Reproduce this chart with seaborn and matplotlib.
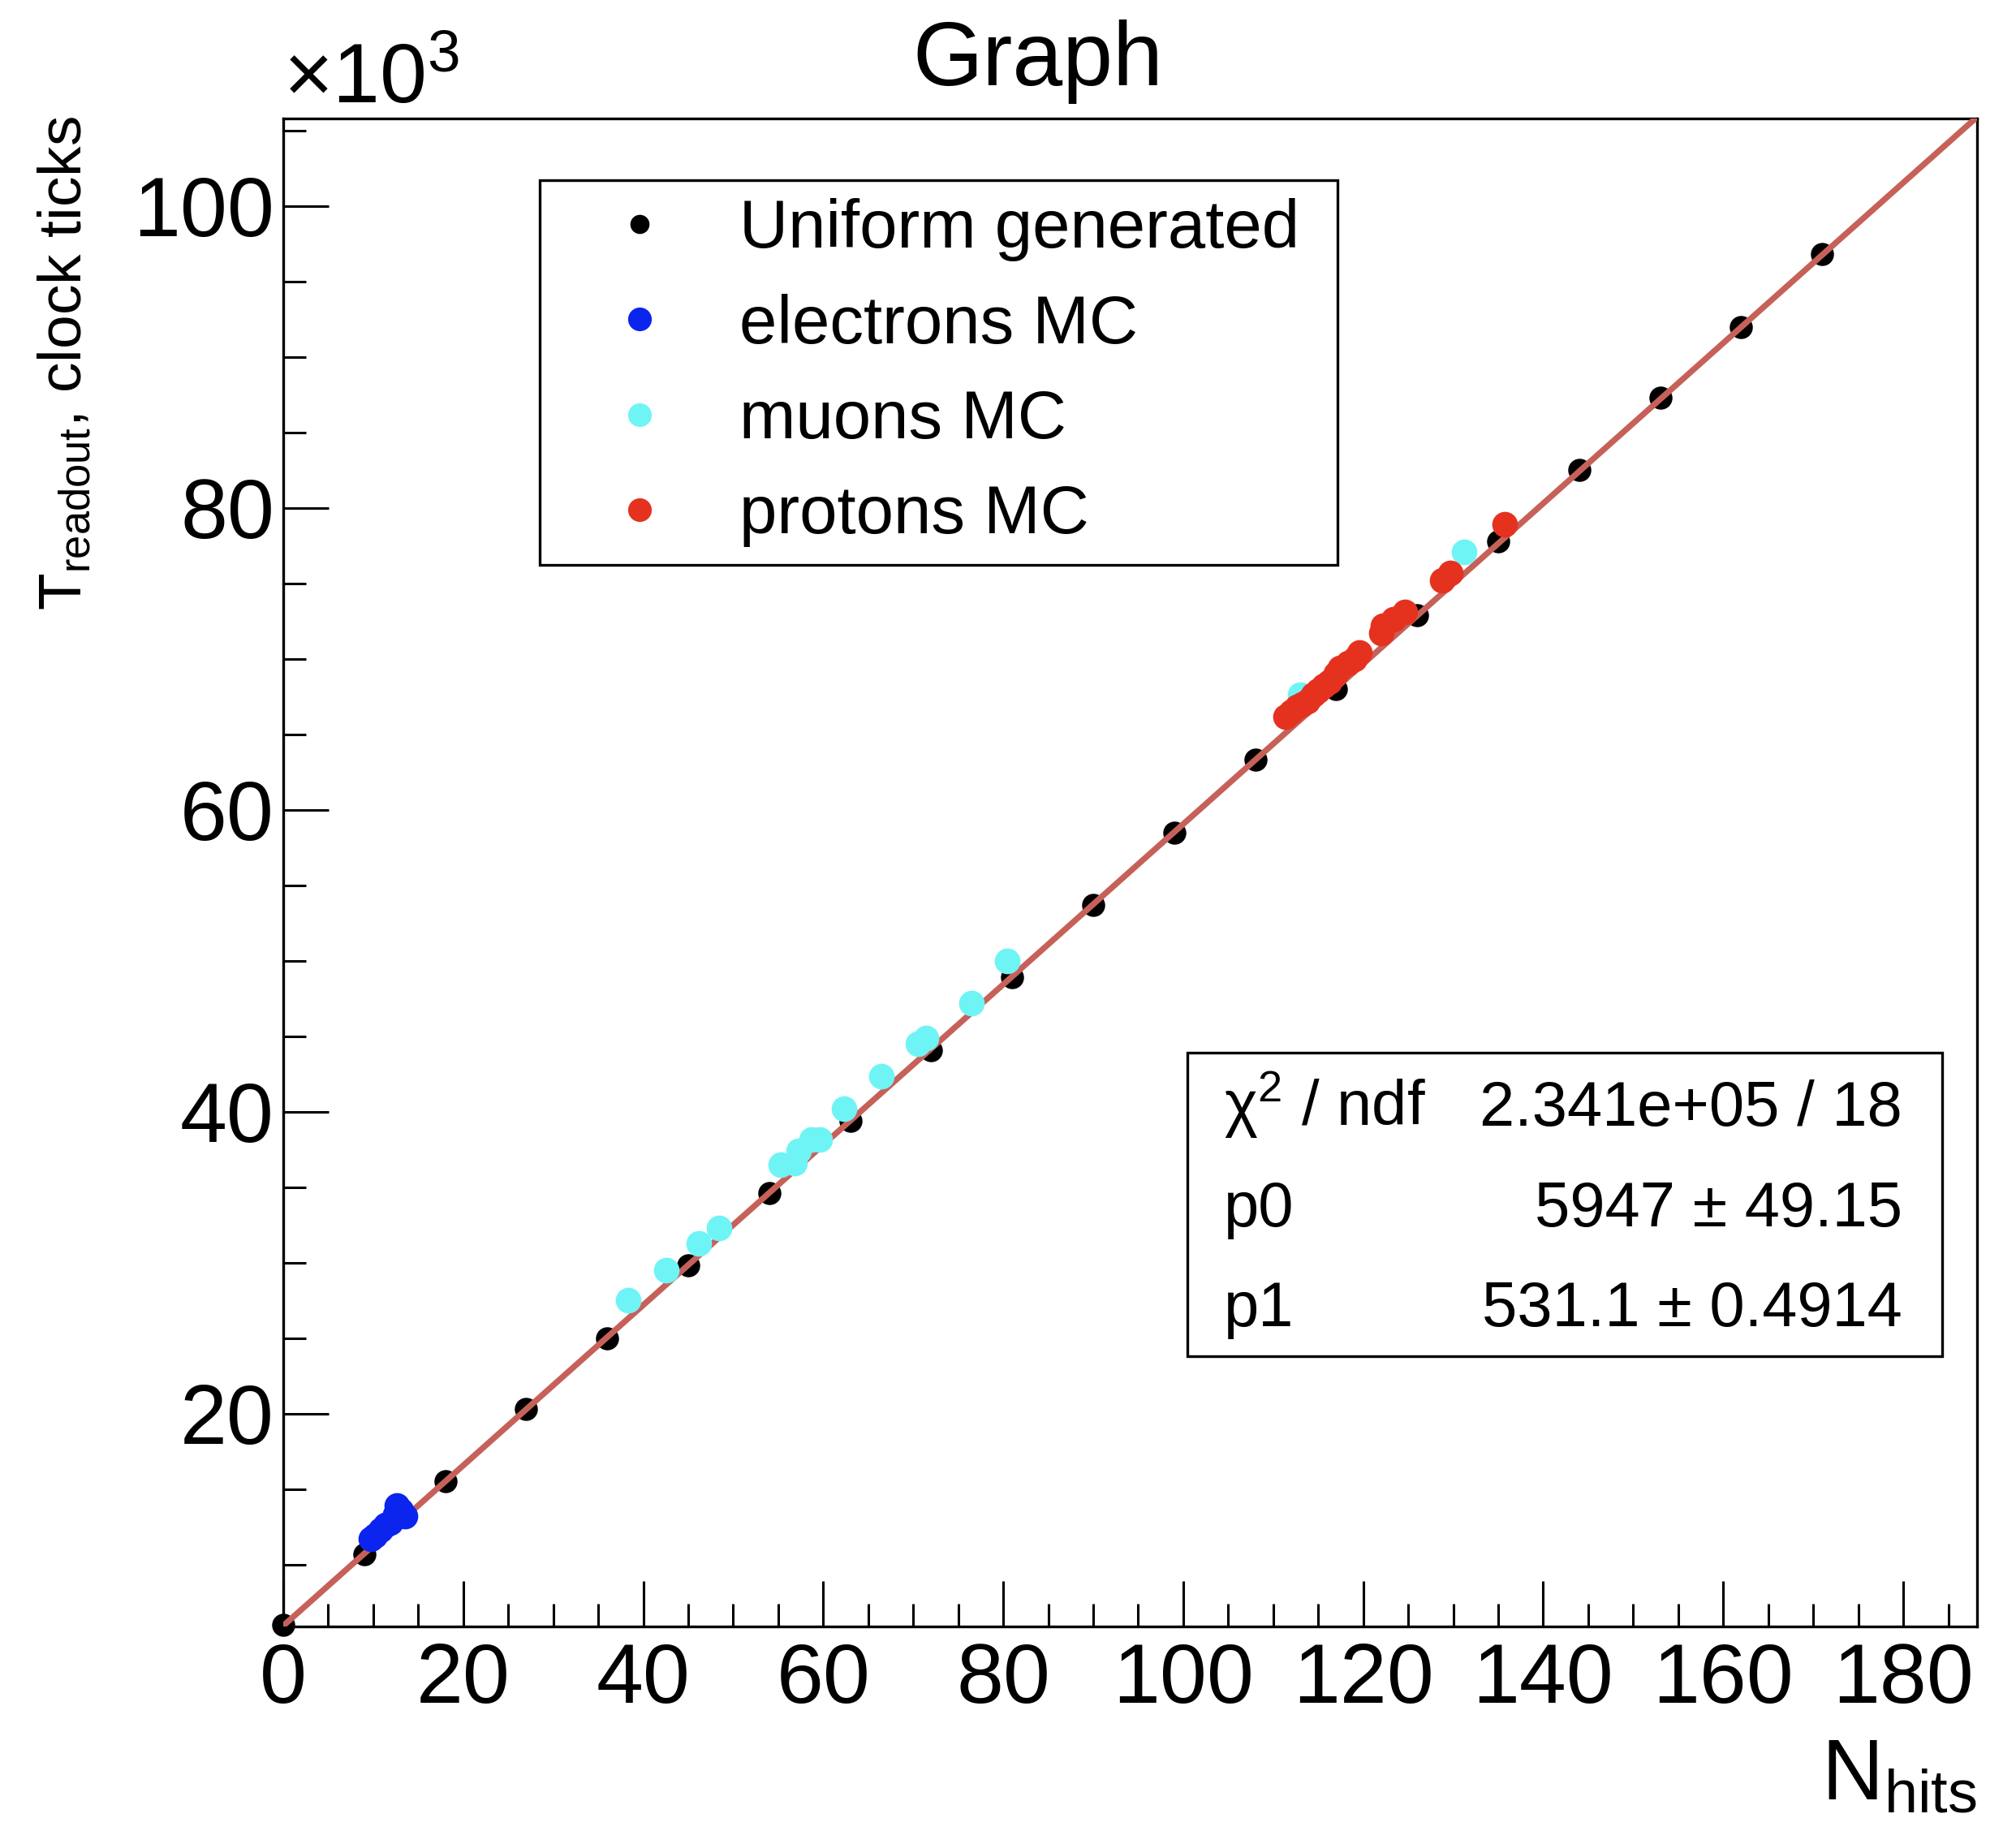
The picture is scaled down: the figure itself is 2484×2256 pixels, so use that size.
import numpy as np
import pandas as pd
import matplotlib
matplotlib.use("Agg")
import matplotlib.pyplot as plt
import seaborn as sns
from matplotlib.lines import Line2D
from matplotlib.patches import Rectangle
from matplotlib.ticker import MultipleLocator

# ---------------- data (y in units of 10^3 clock ticks) ----------------
uniform_x = [0, 9, 18, 27, 36, 45, 54, 63, 72, 81, 90, 99, 108, 117, 126, 135, 144, 153, 162, 171]
uniform_y = [6.0, 10.7, 15.5, 20.3, 25.0, 29.8, 34.6, 39.4, 44.1, 48.9, 53.7, 58.5, 63.3, 68.0,
             72.9, 77.8, 82.5, 87.3, 92.0, 96.8]

electron_x = [9.7, 10.2, 10.8, 11.4, 11.9, 12.4, 12.6, 13.1, 13.5]
electron_y = [11.7, 11.9, 12.3, 12.6, 12.8, 13.3, 13.9, 13.6, 13.2]

muon_x = [38.3, 42.6, 46.2, 48.4, 55.3, 56.8, 57.3, 58.7, 59.6, 62.3, 66.5, 70.5, 71.4, 76.5, 80.4, 113.0, 131.2]
muon_y = [27.5, 29.5, 31.3, 32.3, 36.5, 36.6, 37.4, 38.15, 38.15, 40.2, 42.35, 44.5, 44.9, 47.2, 50.0, 67.6, 77.1]

proton_x = [111.4, 112.0, 112.6, 113.2, 113.8, 114.4, 115.0, 115.6, 116.2, 117.0, 117.4, 118.3, 119.0,
            119.6, 122.0, 122.2, 123.4, 124.6, 128.8, 129.7, 135.7]
proton_y = [66.2, 66.5, 66.8, 67.0, 67.2, 67.6, 67.9, 68.2, 68.5, 69.0, 69.4, 69.7, 70.0,
            70.4, 71.7, 72.2, 72.6, 73.1, 75.2, 75.7, 78.9]

series_names = ["Uniform generated", "electrons MC", "muons MC", "protons MC"]
series_colors = ["#000000", "#0b24ee", "#6ff4f6", "#e5321f"]

fit_p0 = 5947.0
fit_p1 = 531.1
stats_labels = [r"$\mathregular{\chi^{2}}$ / ndf", "p0", "p1"]
stats_values = ["2.341e+05 / 18", "5947 \u00b1 49.15", "531.1 \u00b1 0.4914"]

x_ticks = [0, 20, 40, 60, 80, 100, 120, 140, 160, 180]
y_ticks = [20, 40, 60, 80, 100]
x_range = (0, 188.2)
y_range = (5.9, 105.8)

# ---------------- style ----------------
sns.set_theme(style="white")
plt.rcParams["font.family"] = ["Liberation Sans", "DejaVu Sans"]
plt.rcParams["mathtext.fontset"] = "custom"
plt.rcParams["mathtext.rm"] = "Liberation Sans"
plt.rcParams["mathtext.it"] = "Liberation Sans:italic"
plt.rcParams["mathtext.bf"] = "Liberation Sans:bold"
for key in ["text.color", "axes.labelcolor", "xtick.color", "ytick.color", "axes.edgecolor"]:
    plt.rcParams[key] = "black"

W, H = 2484, 2256
fig = plt.figure(figsize=(W / 100, H / 100), dpi=100)
fig.patch.set_facecolor("white")
ax = fig.add_axes([349 / W, 1 - 2004 / H, (2436 - 349) / W, (2004 - 146) / H])
ax.set_facecolor("white")

frames = []
for name, xs, ys in zip(series_names,
                        [uniform_x, electron_x, muon_x, proton_x],
                        [uniform_y, electron_y, muon_y, proton_y]):
    frames.append(pd.DataFrame({"x": xs, "y": ys, "series": name}))
df = pd.concat(frames, ignore_index=True)

# black points, under the fit line
sns.scatterplot(data=df[df.series == series_names[0]], x="x", y="y", color=series_colors[0],
                s=420, linewidth=0, ax=ax, legend=False, zorder=2, clip_on=False)

# fit line
line_x = np.array([x_range[0], x_range[1]])
line_y = (fit_p0 + fit_p1 * line_x) / 1000.0
sns.lineplot(x=line_x, y=line_y, color="#c6615a", linewidth=5.3, ax=ax, estimator=None,
             zorder=3, legend=False)

for name, col in zip(series_names[1:], series_colors[1:]):
    sns.scatterplot(data=df[df.series == name], x="x", y="y", color=col,
                    s=520, linewidth=0, ax=ax, legend=False, zorder=4)

ax.set_xlim(*x_range)
ax.set_ylim(*y_range)
ax.set_xticks(x_ticks)
ax.set_yticks(y_ticks)
ax.xaxis.set_minor_locator(MultipleLocator(5))
ax.yaxis.set_minor_locator(MultipleLocator(5))
ax.tick_params(which="major", direction="in", length=40, width=2.2, colors="black",
               labelsize=75, top=False, right=False, bottom=True, left=True)
ax.tick_params(which="minor", direction="in", length=20, width=2.2, top=False, right=False,
               bottom=True, left=True)
ax.tick_params(axis="x", which="major", pad=14)
ax.tick_params(axis="y", which="major", pad=8)
for sp in ax.spines.values():
    sp.set_color("black")
    sp.set_linewidth(2.4)
    sp.set_visible(True)
ax.set_xlabel("")
ax.set_ylabel("")

# axis titles
fig.text(2436 / W, 1 - 2218 / H, r"$\mathregular{N_{hits}}$", fontsize=76, ha="right",
         va="baseline")
fig.text(45 / W, 1 - 143 / H, r"$\mathregular{T_{readout}}$, clock ticks", fontsize=54,
         rotation=90, ha="left", va="top")
fig.text(349 / W, 1 - 127 / H, "\u00d710$^{\mathregular{3}}$", fontsize=75, ha="left",
         va="baseline")
fig.text(1279 / W, 1 - 105 / H, "Graph", fontsize=80, ha="center", va="baseline")

# legend
handles = [Line2D([], [], linestyle="none", marker="o", markersize=ms, markerfacecolor=c,
                  markeredgewidth=0, color=c)
           for c, ms in zip(series_colors, [17, 21, 21, 21])]
leg = ax.legend(handles, series_names, loc="upper left",
                bbox_to_anchor=(665 / W, 1 - 689 / H, 983 / W, 467 / H),
                bbox_transform=fig.transFigure, mode="expand", fontsize=60,
                frameon=True, fancybox=False, shadow=False, framealpha=1,
                borderpad=0.27, labelspacing=0.47, handlelength=2.41, handletextpad=0.27,
                borderaxespad=0)
leg.get_frame().set_edgecolor("black")
leg.get_frame().set_linewidth(2.4)
leg.set_zorder(10)

# fit statistics box
fig.patches.append(Rectangle((1463 / W, 1 - 1671 / H), (2393 - 1463) / W, (1671 - 1297) / H,
                             transform=fig.transFigure, facecolor="white", edgecolor="black",
                             linewidth=2.4, zorder=10))
for i, (lab, val) in enumerate(zip(stats_labels, stats_values)):
    yb = [1387, 1511, 1634][i]
    fig.text(1508 / W, 1 - yb / H, lab, fontsize=56, ha="left", va="baseline", zorder=11)
    fig.text(2344 / W, 1 - yb / H, val, fontsize=56, ha="right", va="baseline", zorder=11)

fig.savefig("out.png", dpi=100, facecolor="white")
